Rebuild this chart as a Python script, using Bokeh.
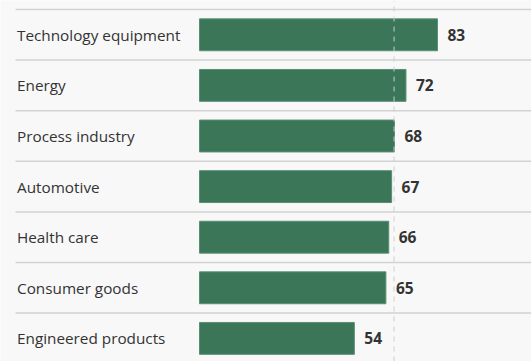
from bokeh.plotting import figure
from bokeh.models import Range1d, ColumnDataSource
from bokeh.core.properties import value
from bokeh.embed import file_html
from bokeh.resources import INLINE

categories = ["Technology equipment", "Energy", "Process industry", "Automotive",
              "Health care", "Consumer goods", "Engineered products"]
values = [83, 72, 68, 67, 66, 65, 54]
average = sum(values) / len(values)

W, H = 531, 361
x0_px = 199.0
scale = (437 - 199) / 83.0  # px per unit
row_px = 50.6
top_offset = 9.0

x_start = -x0_px / scale
x_end = (W - x0_px) / scale
y_top = -0.5 - top_offset / row_px
y_bottom = y_top + H / row_px

p = figure(width=W, height=H, output_backend="svg", toolbar_location=None,
           x_range=Range1d(x_start, x_end), y_range=Range1d(y_bottom, y_top),
           min_border=0, background_fill_color="#f8f8f8", border_fill_color="#f8f8f8",
           outline_line_color=None)
p.axis.visible = False
p.grid.visible = False

ys = list(range(len(categories)))
src = ColumnDataSource(dict(y=ys, v=values, cat=categories,
                            lab=[str(v) for v in values],
                            lx=[v + 10 / scale for v in values]))

# separators
sep_y = [i - 0.5 for i in range(len(categories) + 1)]
p.segment(x0=[x_start + 15 / scale] * len(sep_y), x1=[x_end] * len(sep_y),
          y0=sep_y, y1=sep_y, line_color="#d2d2d2", line_width=1.5)

p.hbar(y="y", left=0, right="v", height=0.63, source=src,
       fill_color="#3b7659", line_color="#5a8f74", line_width=1)

# average dashed line
p.segment(x0=[average], x1=[average], y0=[y_bottom], y1=[y_top],
          line_color="#cccccc", line_width=1.2, line_dash="5 5", line_alpha=0.8)

p.text(x=x_start + 16.5 / scale, y="y", text="cat", source=src,
       text_font=value("Open Sans"), text_font_size="15.3px", text_color="#333333",
       text_baseline="middle", text_align="left")

p.text(x="lx", y="y", text="lab", source=src,
       text_font=value("Open Sans"), text_font_size="15.5px", text_font_style="bold",
       text_color="#333333", text_baseline="middle", text_align="left")

open("out.html", "w").write(file_html(p, INLINE))
